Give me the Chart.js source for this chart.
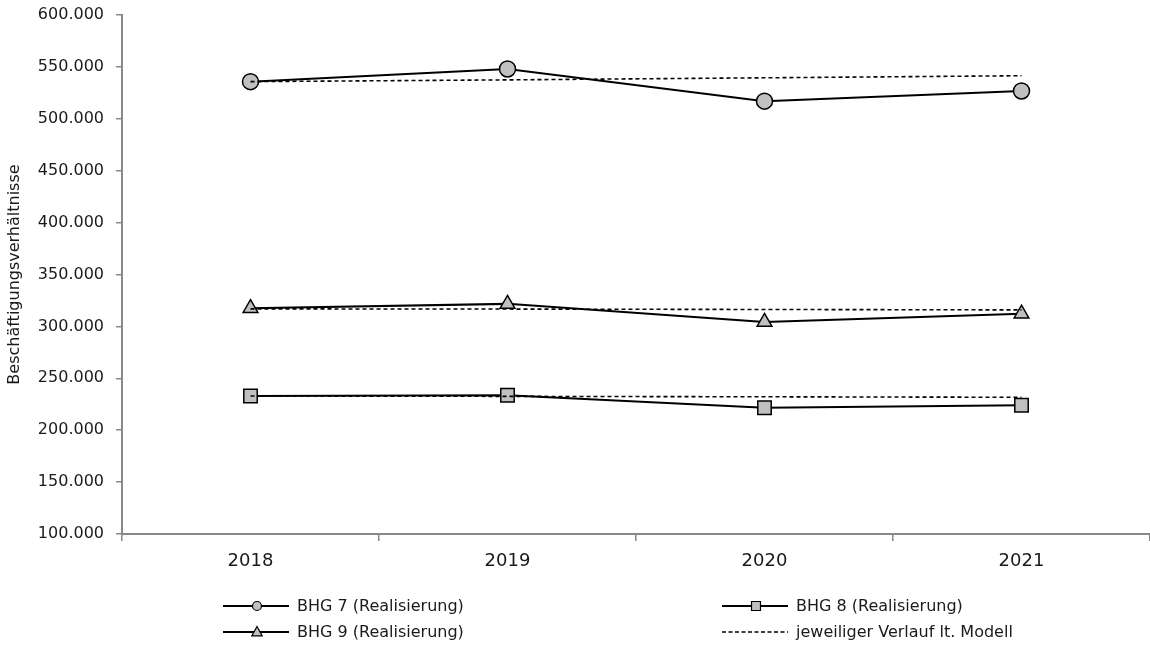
<!DOCTYPE html>
<html lang="de">
  <head>
    <meta charset="UTF-8" />
    <title>Beschäftigungsverhältnisse</title>
    <script src="https://cdn.jsdelivr.net/npm/chart.js"></script>
    <style>
      html, body {
        margin: 0;
        padding: 0;
        background: #fff;
      }
      .chart-wrap {
        position: relative;
        width: 1150px;
        height: 651px;
      }
    </style>
  </head>
  <body>
    <div class="chart-wrap">
      <canvas id="chart"></canvas>
    </div>

    <script>
      const years = ["2018", "2019", "2020", "2021"];

      const bhg7Real = [535800, 548000, 517000, 526800];
      const bhg8Real = [233000, 233700, 221700, 224100];
      const bhg9Real = [317500, 321700, 304300, 312200];

      const bhg7Model = [535800, 537500, 539500, 541500];
      const bhg8Model = [233000, 232600, 232200, 231700];
      const bhg9Model = [316900, 316700, 316300, 315900];

      const yTicks = [100000, 600000, 50000]; // min, max, step

      const FONT = "'DejaVu Sans', sans-serif";
      const TEXT = "#1a1a1a";
      const AXIS = "#888888";
      const MARKER_FILL = "#c0c0c0";

      function formatDE(v) {
        return String(v).replace(/\B(?=(\d{3})+(?!\d))/g, ".");
      }

      function realSet(label, data, style, radius) {
        return {
          label: label,
          data: data,
          borderColor: "#000",
          borderWidth: 2,
          pointStyle: style,
          pointRadius: radius,
          pointHoverRadius: radius,
          pointBackgroundColor: MARKER_FILL,
          pointBorderColor: "#000",
          pointBorderWidth: 1.5,
          fill: false,
          tension: 0,
        };
      }

      function modelSet(data) {
        return {
          label: "jeweiliger Verlauf lt. Modell",
          data: data,
          borderColor: "#000",
          borderWidth: 1.6,
          borderDash: [4, 3],
          pointRadius: 0,
          pointHoverRadius: 0,
          fill: false,
          tension: 0,
        };
      }

      // legend: drawn into the canvas in a 2x2 grid like the original
      const legendSlots = [
        { x: 223, y: 606 },
        { x: 722, y: 606 },
        { x: 223, y: 632 },
        { x: 722, y: 632 },
      ];

      function drawMarker(ctx, style, x, y, r) {
        ctx.save();
        ctx.fillStyle = MARKER_FILL;
        ctx.strokeStyle = "#000";
        ctx.lineWidth = 1.2;
        ctx.setLineDash([]);
        ctx.beginPath();
        if (style === "circle") {
          ctx.arc(x, y, r, 0, Math.PI * 2);
        } else if (style === "triangle") {
          ctx.moveTo(x, y - r);
          ctx.lineTo(x + r * 0.95, y + r * 0.7);
          ctx.lineTo(x - r * 0.95, y + r * 0.7);
          ctx.closePath();
        } else {
          ctx.rect(x - r, y - r, 2 * r, 2 * r);
        }
        ctx.fill();
        ctx.stroke();
        ctx.restore();
      }

      const gridLegend = {
        id: "gridLegend",
        afterDraw(chart) {
          const ctx = chart.ctx;
          const items = [
            { text: "BHG 7 (Realisierung)", style: "circle", r: 4.5 },
            { text: "BHG 8 (Realisierung)", style: "rect", r: 4.5 },
            { text: "BHG 9 (Realisierung)", style: "triangle", r: 5.5 },
            { text: "jeweiliger Verlauf lt. Modell", style: null },
          ];
          ctx.save();
          ctx.font = "16px " + FONT;
          ctx.fillStyle = TEXT;
          ctx.textBaseline = "middle";
          items.forEach((it, i) => {
            const s = legendSlots[i];
            ctx.beginPath();
            ctx.strokeStyle = "#000";
            if (it.style) {
              ctx.lineWidth = 1.8;
              ctx.setLineDash([]);
            } else {
              ctx.lineWidth = 1.5;
              ctx.setLineDash([4, 2.5]);
            }
            ctx.moveTo(s.x, s.y);
            ctx.lineTo(s.x + 66, s.y);
            ctx.stroke();
            ctx.setLineDash([]);
            if (it.style) drawMarker(ctx, it.style, s.x + 34, s.y, it.r);
            ctx.fillText(it.text, s.x + 74, s.y + 1);
          });
          ctx.restore();
        },
      };

      const ctx = document.getElementById("chart").getContext("2d");
      new Chart(ctx, {
        type: "line",
        data: {
          labels: years,
          datasets: [
            modelSet(bhg7Model),
            modelSet(bhg8Model),
            modelSet(bhg9Model),
            realSet("BHG 7 (Realisierung)", bhg7Real, "circle", 8),
            realSet("BHG 8 (Realisierung)", bhg8Real, "rect", 9.5),
            realSet("BHG 9 (Realisierung)", bhg9Real, "triangle", 8.5),
          ],
        },
        options: {
          responsive: true,
          maintainAspectRatio: false,
          animation: false,
          layout: {
            autoPadding: false,
            padding: { top: 15, right: 0, left: 0, bottom: 0 },
          },
          plugins: {
            legend: { display: false },
            tooltip: { enabled: false },
          },
          scales: {
            x: {
              offset: true,
              grid: {
                offset: true,
                drawOnChartArea: false,
                color: AXIS,
                lineWidth: 1.5,
                tickLength: 7,
              },
              border: { color: AXIS, width: 2 },
              ticks: {
                color: TEXT,
                font: { family: FONT, size: 18 },
                padding: 10,
                maxRotation: 0,
              },
              afterFit(scale) {
                scale.height = 117;
                scale.paddingRight = 0;
                scale.paddingLeft = 0;
              },
            },
            y: {
              min: yTicks[0],
              max: yTicks[1],
              grid: {
                drawOnChartArea: false,
                color: AXIS,
                lineWidth: 1.5,
                tickLength: 6,
              },
              border: { color: AXIS, width: 2 },
              ticks: {
                stepSize: yTicks[2],
                color: TEXT,
                font: { family: FONT, size: 16 },
                padding: 12,
                callback: (v) => formatDE(v),
              },
              title: {
                display: true,
                text: "Beschäftigungsverhältnisse",
                color: TEXT,
                font: { family: FONT, size: 16 },
                padding: { top: 5, bottom: 0 },
              },
              afterFit(scale) {
                scale.width = 122;
                scale.paddingTop = 0;
                scale.paddingBottom = 0;
              },
            },
          },
        },
        plugins: [gridLegend],
      });
    </script>
  </body>
</html>
